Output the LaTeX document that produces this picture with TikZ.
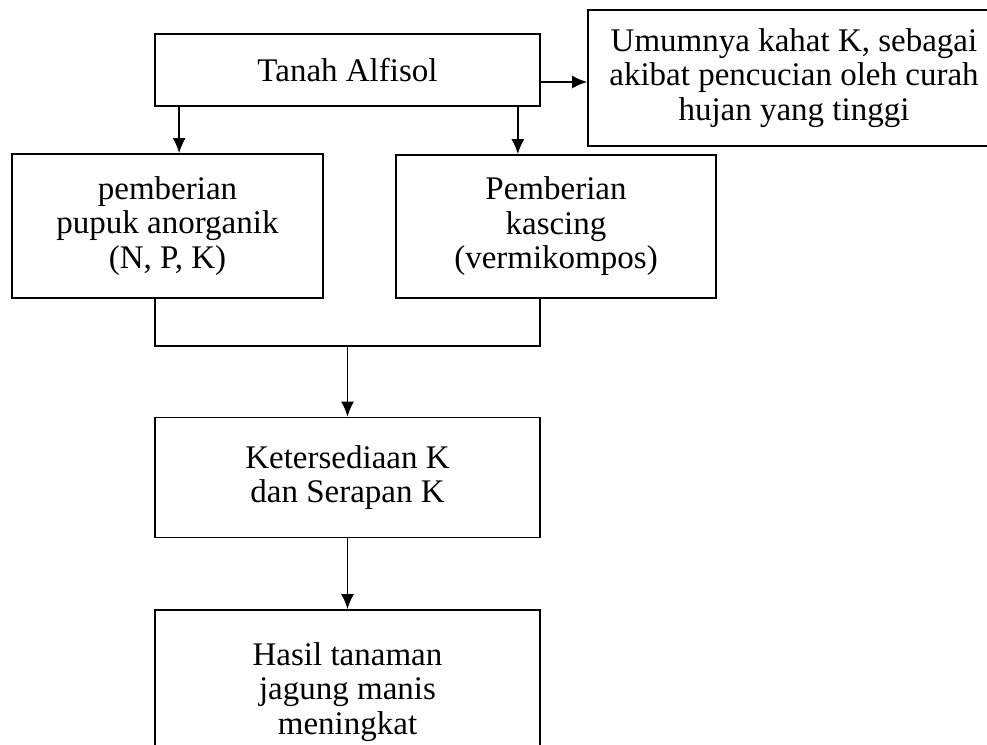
\documentclass[tikz,border=0pt]{standalone}
\usepackage{fontspec}
\setmainfont{Liberation Serif}
\usetikzlibrary{arrows.meta}
\tikzset{
  box/.style={draw, line width=0.85pt, align=center, inner sep=0pt,
    font=\fontsize{16.5}{17.25}\selectfont},
  arr/.style={-{Latex[length=7.5pt,width=6.5pt]}, line width=0.85pt}
}
\begin{document}
\begin{tikzpicture}[x=0.5pt,y=-0.5pt]
      \useasboundingbox (0,0) rectangle (987,745);
      \clip (0,0) rectangle (987,745);
      \draw
        (347.5,70) node[box, minimum width=192.5pt, minimum height=36pt] (tanah){Tanah Alfisol}
        (794,78) node[box, minimum width=206pt, minimum height=68pt] (kahat){Umumnya kahat K, sebagai\\akibat pencucian oleh curah\\hujan yang tinggi}
        (167.5,226) node[box, minimum width=155.5pt, minimum height=72pt] (pupuk){pemberian\\pupuk anorganik\\(N, P, K)}
        (556,226.5) node[box, minimum width=160pt, minimum height=71.5pt] (kascing){Pemberian\\kascing\\(vermikompos)}
        (347.5,477.5) node[box, minimum width=192.5pt, minimum height=60pt] (sedia){Ketersediaan K\\dan Serapan K}
        (347.5,692) node[box, minimum width=192.5pt, minimum height=82pt] (hasil){Hasil tanaman\\jagung manis\\meningkat};
      \begin{scope}[arr]
        \draw ([yshift=-6pt]tanah.east) to ([yshift=-6pt]tanah.east -| kahat.west);
        \draw ([xshift=12.5pt]tanah.south west) coordinate (d1) to (d1 |- pupuk.north);
        \draw ([xshift=-11.5pt]tanah.south east) coordinate (d2) to (d2 |- kascing.north);
        \draw (sedia) to (hasil);
      \end{scope}
      \draw[line width=0.85pt] ([xshift=-6.25pt]pupuk.south) |- (sedia.north |- 0,346) coordinate (m)
        -| ([xshift=-8pt]kascing.south);
      \draw[arr] (m) to (sedia.north);
    \end{tikzpicture}
\end{document}
